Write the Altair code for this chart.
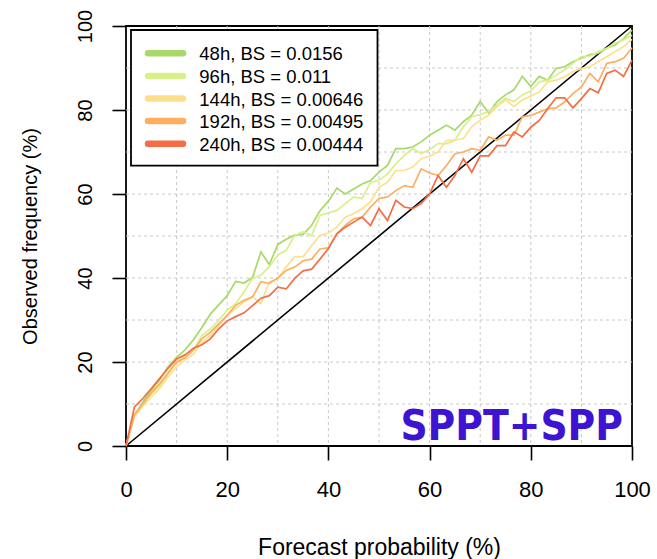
import altair as alt
import pandas as pd

# Forecast probability bins (%)
prob = [0, 1.67, 3.33, 5, 6.67, 8.33, 10, 11.67, 13.33, 15, 16.67, 18.33,
        20, 21.67, 23.33, 25, 26.67, 28.33, 30, 31.67, 33.33, 35, 36.67, 38.33,
        40, 41.67, 43.33, 45, 46.67, 48.33, 50, 51.67, 53.33, 55, 56.67, 58.33,
        60, 61.67, 63.33, 65, 66.67, 68.33, 70, 71.67, 73.33, 75, 76.67, 78.33,
        80, 81.67, 83.33, 85, 86.67, 88.33, 90, 91.67, 93.33, 95, 96.67, 98.33, 100]

obs_48h = [0, 7.3, 10.5, 13.3, 15.7, 18.9, 21.1, 22.9, 25.3, 28.2, 31.4, 33.6,
           35.8, 39.2, 38.8, 40.1, 46.2, 43.2, 48.0, 49.2, 50.2, 50.4, 52.5, 56.0,
           58.3, 61.4, 60.0, 61.2, 62.4, 63.2, 65.2, 66.8, 70.8, 70.8, 71.2, 72.4,
           74.0, 75.2, 76.4, 75.2, 77.2, 78.8, 82.0, 79.2, 82.0, 83.6, 84.8, 88.0,
           85.6, 88.0, 87.1, 89.9, 90.3, 91.5, 92.3, 93.2, 93.5, 94.7, 95.5, 97.0, 99.0]

obs_96h = [0, 7.5, 10.0, 12.4, 14.4, 17.0, 20.0, 21.5, 22.9, 26.3, 27.9, 29.9,
           32.3, 33.9, 36.7, 39.9, 40.7, 42.7, 45.5, 46.6, 50.1, 51.0, 50.1, 54.9,
           55.5, 56.1, 57.7, 59.3, 58.9, 62.8, 63.2, 64.8, 67.2, 69.2, 70.8, 69.6,
           70.6, 72.0, 72.0, 72.8, 76.0, 78.4, 78.9, 79.6, 81.2, 82.8, 82.0, 83.6,
           84.5, 86.7, 87.1, 88.3, 89.5, 91.1, 92.7, 92.8, 93.9, 94.7, 95.9, 96.7, 97.8]

obs_144h = [0, 7.0, 9.5, 11.7, 13.7, 16.5, 18.8, 20.5, 21.9, 24.7, 26.3, 28.7,
            31.1, 32.7, 34.3, 35.5, 33.9, 39.1, 39.9, 42.7, 45.0, 45.1, 47.7, 50.1,
            50.7, 52.1, 54.5, 55.3, 56.5, 58.1, 61.6, 62.8, 65.6, 65.6, 66.4, 68.4,
            69.0, 70.0, 72.8, 72.8, 73.2, 76.0, 77.6, 78.8, 80.8, 82.4, 80.8, 82.4,
            83.3, 84.3, 86.7, 87.1, 87.9, 89.1, 89.9, 90.3, 91.5, 92.7, 93.9, 95.1, 96.8]

obs_192h = [0, 7.5, 10.0, 12.7, 14.8, 17.5, 19.9, 21.0, 22.9, 25.5, 27.1, 29.1,
            31.1, 33.5, 34.7, 35.5, 39.1, 38.7, 40.0, 41.8, 42.6, 44.1, 44.5, 46.9,
            47.2, 50.5, 52.5, 54.1, 54.5, 56.9, 58.9, 59.3, 60.8, 62.0, 61.6, 66.0,
            65.0, 64.4, 66.8, 69.6, 70.0, 70.8, 70.4, 73.6, 72.8, 74.0, 74.0, 78.4,
            78.7, 79.5, 80.3, 80.5, 81.9, 83.9, 85.5, 88.7, 86.7, 91.1, 91.5, 92.3, 94.8]

obs_240h = [0, 9.3, 11.3, 13.7, 16.1, 18.5, 20.7, 21.7, 23.3, 24.1, 25.5, 27.9,
            29.8, 30.8, 31.7, 33.4, 35.2, 35.8, 37.8, 37.4, 39.9, 41.7, 42.1, 44.5,
            47.0, 50.5, 52.1, 53.3, 54.5, 52.5, 56.5, 53.7, 58.5, 56.9, 56.5, 57.7,
            60.0, 64.4, 61.6, 64.4, 68.4, 65.2, 69.1, 69.1, 71.5, 71.5, 74.8, 73.6,
            75.9, 77.5, 80.3, 82.9, 82.9, 80.5, 82.7, 85.1, 84.1, 88.7, 89.5, 88.0, 91.9]

series_names = ["48h, BS = 0.0156", "96h, BS = 0.011", "144h, BS = 0.00646",
                "192h, BS = 0.00495", "240h, BS = 0.00444"]
series_colors = ["#a6d96a", "#d9ef8b", "#fee08b", "#fdae61", "#f46d43"]
series_values = [obs_48h, obs_96h, obs_144h, obs_192h, obs_240h]

grid_values = [10, 20, 30, 40, 50, 60, 70, 80, 90]
tick_values = [0, 20, 40, 60, 80, 100]
diagonal = [0, 100]
annotation = "SPPT+SPP"

FONT = "Liberation Sans"
W, H = 506, 420

rows = []
for name, vals in zip(series_names, series_values):
    for p, v in zip(prob, vals):
        rows.append({"series": name, "prob": p, "obs": v})
df = pd.DataFrame(rows)

grid_df = pd.DataFrame({"g": grid_values})
diag_df = pd.DataFrame({"p": diagonal})

xs = alt.Scale(domain=[0, 100], nice=False, zero=False)
ys = alt.Scale(domain=[0, 100], nice=False, zero=False)
cs = alt.Scale(domain=series_names, range=series_colors)

x_axis = alt.Axis(values=tick_values, grid=False, domain=False, ticks=True,
                  tickSize=14, tickWidth=1.6, tickColor="black",
                  labelFont=FONT, labelFontSize=22, labelColor="black",
                  labelPadding=36, labelBaseline="alphabetic", labelAlign="center",
                  labelFlush=False, labelOverlap=False,
                  title="Forecast probability (%)", titleFont=FONT, titleFontSize=23,
                  titleFontWeight="normal", titleColor="black",
                  titleX=253, titleY=108, titleAlign="center", titleBaseline="alphabetic")
y_axis = alt.Axis(values=tick_values, grid=False, domain=False, ticks=True,
                  tickSize=14, tickWidth=1.6, tickColor="black",
                  labelFont=FONT, labelFontSize=20, labelColor="black",
                  labelAngle=270, labelPadding=21, labelBaseline="alphabetic",
                  labelAlign="center", labelFlush=False, labelOverlap=False,
                  title="Observed frequency (%)", titleFont=FONT, titleFontSize=20,
                  titleFontWeight="normal", titleColor="black", titleAngle=270,
                  titleX=-90, titleY=210, titleAlign="center", titleBaseline="alphabetic")

grid_v = alt.Chart(grid_df).mark_rule(color="#c8c8c8", strokeDash=[3, 3], strokeWidth=1).encode(
    x=alt.X("g:Q", scale=xs, axis=x_axis, title="Forecast probability (%)"),
    y=alt.value(0), y2=alt.value(H))
grid_h = alt.Chart(grid_df).mark_rule(color="#c8c8c8", strokeDash=[3, 3], strokeWidth=1).encode(
    y=alt.Y("g:Q", scale=ys, axis=y_axis, title="Observed frequency (%)"),
    x=alt.value(0), x2=alt.value(W))

diag_line = alt.Chart(diag_df).mark_line(color="black", strokeWidth=1.6).encode(
    x=alt.X("p:Q", scale=xs, axis=x_axis, title="Forecast probability (%)"),
    y=alt.Y("p:Q", scale=ys, axis=y_axis, title="Observed frequency (%)"))

layers = [grid_v, grid_h, diag_line]
for i, name in enumerate(series_names):
    layer = alt.Chart(df[df["series"] == name]).mark_line(strokeWidth=1.7).encode(
        x=alt.X("prob:Q", scale=xs, axis=x_axis, title="Forecast probability (%)"),
        y=alt.Y("obs:Q", scale=ys, axis=y_axis, title="Observed frequency (%)"),
        color=alt.Color("series:N", scale=cs, legend=None),
    )
    layers.append(layer)

# Legend box (drawn manually to match the reference layout)
legend_box = alt.Chart(grid_df.head(1)).mark_rect(fill="white", stroke="black", strokeWidth=1.8).encode(
    x=alt.value(5), x2=alt.value(251.5), y=alt.value(4), y2=alt.value(139.7))
layers.append(legend_box)
for i, (name, col) in enumerate(zip(series_names, series_colors)):
    ry = 27.3 + 22.6 * i
    key = alt.Chart(grid_df.head(1)).mark_rule(color=col, strokeWidth=6.5, strokeCap="round").encode(
        x=alt.value(22), x2=alt.value(57), y=alt.value(ry))
    txt = alt.Chart(grid_df.head(1)).mark_text(text=name, font=FONT, fontSize=18.5, color="black",
                                               align="left", baseline="middle").encode(
        x=alt.value(73.3), y=alt.value(ry + 1))
    layers += [key, txt]

label = alt.Chart(grid_df.head(1)).mark_text(text=annotation, font="DejaVu Sans Condensed, Liberation Sans",
                                             fontSize=42, fontWeight="bold", color="#3c14d2",
                                             align="right", baseline="alphabetic").encode(
    x=alt.value(497), y=alt.value(414))
layers.append(label)

chart = alt.layer(*layers).properties(
    width=W, height=H,
    padding={"left": 126, "top": 26, "right": 25, "bottom": 113},
    autosize=alt.AutoSizeParams(type="none"),
    background="white",
).configure_view(stroke="black", strokeWidth=1.8)

chart.save("out.html", embed_options={"renderer": "svg", "actions": False})
